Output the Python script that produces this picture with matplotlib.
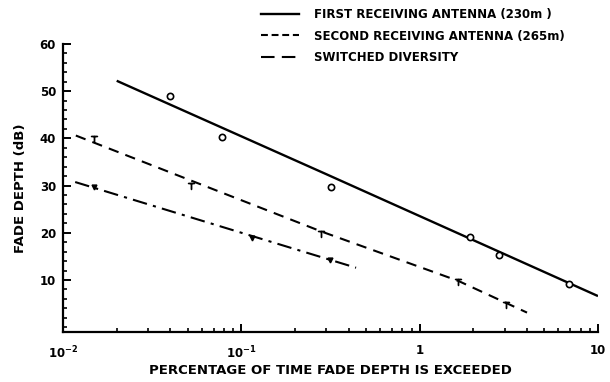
import numpy as np
import matplotlib
matplotlib.use("Agg")
import matplotlib.pyplot as plt
from matplotlib.lines import Line2D
from matplotlib.ticker import FixedLocator, FixedFormatter, MultipleLocator

# first receiving antenna (230 m): measured points and drawn curve
first_x = [0.04, 0.078, 0.32, 1.92, 2.79, 6.84]
first_y = [49.0, 40.3, 29.7, 19.1, 15.4, 9.2]
first_line_x = [0.02, 0.3, 10.0]
first_line_y = [52.2, 32.4, 6.6]

# second receiving antenna (265 m)
second_x = [0.015, 0.052, 0.278, 1.65, 3.04]
second_y = [39.8, 30.0, 19.8, 9.5, 4.8]
second_line_x = [0.0118, 0.28, 1.65, 4.0]
second_line_y = [40.6, 20.3, 9.8, 3.1]

# switched diversity
sw_x = [0.015, 0.115, 0.316]
sw_y = [29.7, 18.9, 14.3]
sw_line_x = [0.0117, 0.44]
sw_line_y = [30.75, 12.6]

labels = ["FIRST RECEIVING ANTENNA (230m )",
          "SECOND RECEIVING ANTENNA (265m)",
          "SWITCHED DIVERSITY"]

xticks = [0.01, 0.1, 1, 10]
xticklabels = [r"$\mathbf{10^{-2}}$", r"$\mathbf{10^{-1}}$", "1", "10"]
yticks = [10, 20, 30, 40, 50, 60]

fig = plt.figure(figsize=(6.1, 3.82), dpi=100)
ax = fig.add_axes([0.1033, 0.131, 0.877, 0.754])

ax.plot(first_line_x, first_line_y, color="black", lw=1.7, solid_capstyle="butt")
ax.plot(first_x, first_y, "o", mfc="white", mec="black", mew=1.2, ms=4.5)

ax.plot(second_line_x, second_line_y, color="black", lw=1.5, dashes=(5, 3.5))
ax.plot(second_x, second_y, ls="none", marker=r"$\top$", color="black", ms=5)

ax.plot(sw_line_x, sw_line_y, color="black", lw=1.5, dashes=(7, 3, 1.5, 3))
ax.plot(sw_x, sw_y, "v", color="black", ms=3.5)

ax.set_xscale("log")
ax.set_xlim(0.01, 10)
ax.set_ylim(-1, 60)

ax.xaxis.set_major_locator(FixedLocator(xticks))
ax.xaxis.set_major_formatter(FixedFormatter(xticklabels))
ax.yaxis.set_major_locator(FixedLocator(yticks))
ax.yaxis.set_minor_locator(MultipleLocator(2))

for s in ["top", "right"]:
    ax.spines[s].set_visible(False)
for s in ["left", "bottom"]:
    ax.spines[s].set_linewidth(1.6)

ax.tick_params(which="major", direction="in", length=6, width=1.4,
               labelsize=8.5, pad=5)
ax.tick_params(axis="x", which="major", pad=9)
ax.tick_params(which="minor", direction="in", length=3, width=1.2)
for t in ax.get_xticklabels() + ax.get_yticklabels():
    t.set_fontweight("bold")

ax.set_xlabel("PERCENTAGE OF TIME FADE DEPTH IS EXCEEDED",
              fontsize=9.5, fontweight="bold", labelpad=2)
ax.set_ylabel("FADE DEPTH (dB)", fontsize=9.5, fontweight="bold", labelpad=9)

handles = [Line2D([], [], color="black", lw=1.7),
           Line2D([], [], color="black", lw=1.5, dashes=(3.3, 1.8)),
           Line2D([], [], color="black", lw=1.5, dashes=(6.5, 3.5))]
leg = fig.legend(handles, labels, loc="upper left", bbox_to_anchor=(0.41, 1.006),
                 frameon=False, handlelength=3.2, handletextpad=1.3,
                 labelspacing=0.7, prop={"size": 8.5, "weight": "bold"})

fig.savefig("out.png", dpi=100)
